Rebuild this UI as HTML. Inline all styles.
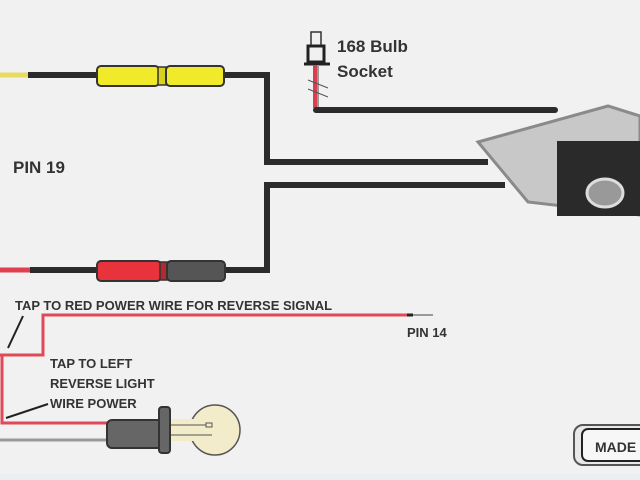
<!DOCTYPE html>
<html><head><meta charset="utf-8"><style>
html,body{margin:0;padding:0;background:#f1f1f1;}
svg{display:block}
text{font-family:"Liberation Sans",sans-serif;font-weight:bold;fill:#333}
</style></head><body>
<svg width="640" height="480" viewBox="0 0 640 480" xmlns="http://www.w3.org/2000/svg">
<rect width="640" height="480" fill="#f1f1f1"/>
<!-- top yellow wire -->
<line x1="0" y1="75" x2="28" y2="75" stroke="#e8dc60" stroke-width="5"/>
<polyline points="28,75 267,75 267,162 488,162" fill="none" stroke="#2b2b2b" stroke-width="6"/>
<rect x="97" y="66" width="62" height="20" rx="4" fill="#f0ea2a" stroke="#333" stroke-width="2"/>
<rect x="158" y="67" width="8" height="18" fill="#d8d020" stroke="#333" stroke-width="1.5"/>
<rect x="166" y="66" width="58" height="20" rx="4" fill="#f0ea2a" stroke="#333" stroke-width="2"/>
<!-- bottom red wire -->
<line x1="0" y1="270" x2="30" y2="270" stroke="#e04050" stroke-width="5"/>
<polyline points="30,270 267,270 267,185 505,185" fill="none" stroke="#2b2b2b" stroke-width="6"/>
<rect x="97" y="261" width="64" height="20" rx="4" fill="#e8323c" stroke="#333" stroke-width="2"/>
<rect x="160" y="262" width="7" height="18" fill="#b02a30" stroke="#333" stroke-width="1.5"/>
<rect x="167" y="261" width="58" height="20" rx="4" fill="#555" stroke="#333" stroke-width="2"/>
<text x="13" y="173" font-size="17">PIN 19</text>
<!-- bulb socket top -->
<rect x="311" y="32" width="10" height="14" fill="#f1f1f1" stroke="#333" stroke-width="1.5"/>
<rect x="308" y="46" width="16" height="16" fill="#f1f1f1" stroke="#222" stroke-width="3"/>
<line x1="304" y1="64" x2="330" y2="64" stroke="#222" stroke-width="3"/>
<line x1="315" y1="65" x2="315" y2="108" stroke="#d84050" stroke-width="4"/>
<line x1="318" y1="65" x2="318" y2="108" stroke="#999" stroke-width="2"/>
<line x1="308" y1="80" x2="328" y2="88" stroke="#555" stroke-width="1"/>
<line x1="308" y1="89" x2="328" y2="97" stroke="#555" stroke-width="1"/>
<line x1="316" y1="110" x2="555" y2="110" stroke="#2b2b2b" stroke-width="6" stroke-linecap="round"/>
<text x="337" y="52" font-size="17" font-weight="normal" style="font-weight:bold">168 Bulb</text>
<text x="337" y="77" font-size="17" style="font-weight:bold">Socket</text>
<!-- camera -->
<polygon points="478,142 608,106 640,116 640,215 528,202" fill="#c8c8c8" stroke="#8a8a8a" stroke-width="3"/>
<rect x="557" y="141" width="83" height="75" fill="#2a2a2a"/>
<ellipse cx="605" cy="193" rx="18" ry="14" fill="#999" stroke="#ddd" stroke-width="3"/>
<!-- reverse signal wire -->
<polyline points="0,355 43,355 43,315 407,315" fill="none" stroke="#e04a58" stroke-width="3"/>
<line x1="407" y1="315" x2="413" y2="315" stroke="#222" stroke-width="3"/>
<line x1="413" y1="315" x2="433" y2="315" stroke="#444" stroke-width="1"/>
<text x="15" y="310" font-size="13">TAP TO RED POWER WIRE FOR REVERSE SIGNAL</text>
<text x="407" y="337" font-size="13">PIN 14</text>
<line x1="23" y1="316" x2="8" y2="348" stroke="#222" stroke-width="2"/>
<!-- left vertical & bulb wires -->
<polyline points="2,355 2,423 110,423" fill="none" stroke="#e04a58" stroke-width="3"/>
<line x1="0" y1="440" x2="110" y2="440" stroke="#999" stroke-width="3"/>
<text x="50" y="368" font-size="13">TAP TO LEFT</text>
<text x="50" y="388" font-size="13">REVERSE LIGHT</text>
<text x="50" y="408" font-size="13">WIRE POWER</text>
<line x1="48" y1="404" x2="6" y2="418" stroke="#222" stroke-width="2"/>
<!-- bulb -->
<circle cx="215" cy="430" r="25" fill="#f3eccb" stroke="#555" stroke-width="1.5"/>
<rect x="168" y="419" width="40" height="22" fill="#f3eccb"/>
<line x1="170" y1="425" x2="206" y2="425" stroke="#555" stroke-width="1"/>
<line x1="170" y1="435" x2="212" y2="435" stroke="#555" stroke-width="1"/>
<rect x="206" y="423" width="6" height="4" fill="none" stroke="#555" stroke-width="1"/>
<rect x="107" y="420" width="56" height="28" rx="5" fill="#666" stroke="#333" stroke-width="2"/>
<rect x="159" y="407" width="11" height="46" rx="3" fill="#666" stroke="#333" stroke-width="2"/>
<!-- MADE badge -->
<rect x="574" y="425" width="80" height="40" rx="9" fill="#e8e8e8" stroke="#555" stroke-width="2"/>
<rect x="582" y="429" width="70" height="32" rx="6" fill="#f7f7f7" stroke="#222" stroke-width="2"/>
<text x="595" y="452" font-size="14" fill="#222">MADE</text>
<rect x="0" y="474" width="640" height="6" fill="#e8eef2"/>
</svg>
</body></html>
